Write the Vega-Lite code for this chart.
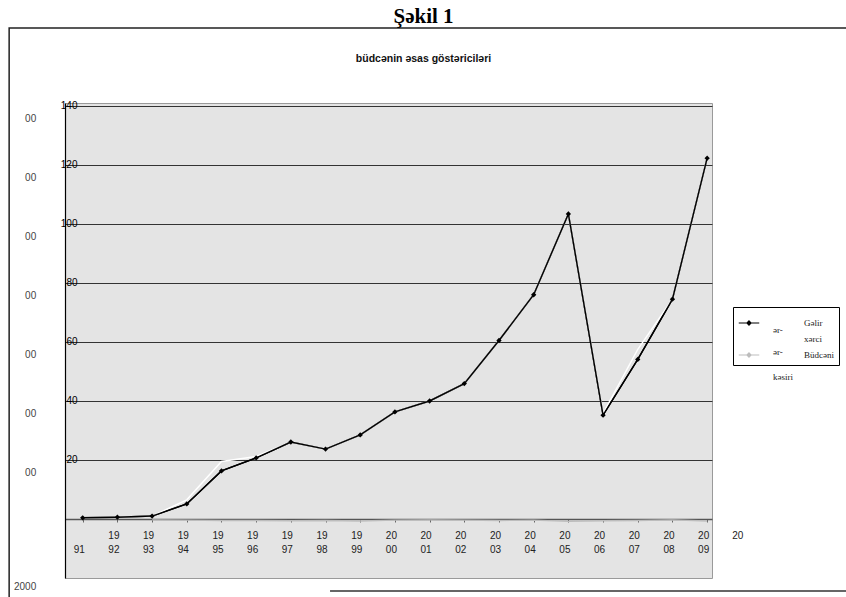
{
  "$schema": "https://vega.github.io/schema/vega-lite/v6.json",
  "autosize": {"type": "none"},
  "width": 647,
  "height": 475,
  "padding": {"left": 65, "top": 103, "right": 134, "bottom": 19},
  "background": "white",
  "title": {
    "text": "Şəkil 1",
    "subtitle": "büdcənin əsas göstəriciləri",
    "anchor": "middle",
    "dx": 35,
    "font": "Liberation Serif",
    "fontSize": 21,
    "fontWeight": "bold",
    "color": "#000000",
    "subtitleFont": "Liberation Sans",
    "subtitleFontSize": 10.5,
    "subtitleFontWeight": "bold",
    "subtitleColor": "#111111",
    "subtitlePadding": 27,
    "offset": -37
  },
  "datasets": {
    "series": [
      {"year": 1991, "series": "Gəlirlər", "value": 0.4},
      {"year": 1992, "series": "Gəlirlər", "value": 0.6},
      {"year": 1993, "series": "Gəlirlər", "value": 1.0},
      {"year": 1994, "series": "Gəlirlər", "value": 5.1},
      {"year": 1995, "series": "Gəlirlər", "value": 16.3},
      {"year": 1996, "series": "Gəlirlər", "value": 20.7},
      {"year": 1997, "series": "Gəlirlər", "value": 26.1},
      {"year": 1998, "series": "Gəlirlər", "value": 23.7},
      {"year": 1999, "series": "Gəlirlər", "value": 28.5},
      {"year": 2000, "series": "Gəlirlər", "value": 36.3},
      {"year": 2001, "series": "Gəlirlər", "value": 40.0},
      {"year": 2002, "series": "Gəlirlər", "value": 45.9},
      {"year": 2003, "series": "Gəlirlər", "value": 60.5},
      {"year": 2004, "series": "Gəlirlər", "value": 76.0},
      {"year": 2005, "series": "Gəlirlər", "value": 103.4},
      {"year": 2006, "series": "Gəlirlər", "value": 35.2},
      {"year": 2007, "series": "Gəlirlər", "value": 54.1},
      {"year": 2008, "series": "Gəlirlər", "value": 74.5},
      {"year": 2009, "series": "Gəlirlər", "value": 122.3},
      {"year": 1991, "series": "Xərclər", "value": 0.4},
      {"year": 1992, "series": "Xərclər", "value": 0.6},
      {"year": 1993, "series": "Xərclər", "value": 1.0},
      {"year": 1994, "series": "Xərclər", "value": 6.5},
      {"year": 1995, "series": "Xərclər", "value": 19.5},
      {"year": 1996, "series": "Xərclər", "value": 21.2},
      {"year": 1997, "series": "Xərclər", "value": 26.1},
      {"year": 1998, "series": "Xərclər", "value": 23.7},
      {"year": 1999, "series": "Xərclər", "value": 28.5},
      {"year": 2000, "series": "Xərclər", "value": 36.3},
      {"year": 2001, "series": "Xərclər", "value": 40.0},
      {"year": 2002, "series": "Xərclər", "value": 45.9},
      {"year": 2003, "series": "Xərclər", "value": 60.5},
      {"year": 2004, "series": "Xərclər", "value": 76.0},
      {"year": 2005, "series": "Xərclər", "value": 103.4},
      {"year": 2006, "series": "Xərclər", "value": 35.8},
      {"year": 2007, "series": "Xərclər", "value": 57.5},
      {"year": 2008, "series": "Xərclər", "value": 74.5},
      {"year": 2009, "series": "Xərclər", "value": 122.3},
      {"year": 1993, "series": "Büdcənin kəsiri", "value": -0.3},
      {"year": 1994, "series": "Büdcənin kəsiri", "value": -0.4},
      {"year": 1995, "series": "Büdcənin kəsiri", "value": -0.5},
      {"year": 1996, "series": "Büdcənin kəsiri", "value": -0.5},
      {"year": 1997, "series": "Büdcənin kəsiri", "value": -0.6},
      {"year": 1998, "series": "Büdcənin kəsiri", "value": -0.5},
      {"year": 1999, "series": "Büdcənin kəsiri", "value": -0.7},
      {"year": 2000, "series": "Büdcənin kəsiri", "value": -0.4},
      {"year": 2001, "series": "Büdcənin kəsiri", "value": -0.3},
      {"year": 2002, "series": "Büdcənin kəsiri", "value": -0.4},
      {"year": 2003, "series": "Büdcənin kəsiri", "value": -0.5},
      {"year": 2004, "series": "Büdcənin kəsiri", "value": -0.4},
      {"year": 2005, "series": "Büdcənin kəsiri", "value": -0.8},
      {"year": 2006, "series": "Büdcənin kəsiri", "value": -0.6},
      {"year": 2007, "series": "Büdcənin kəsiri", "value": -0.5},
      {"year": 2008, "series": "Büdcənin kəsiri", "value": -0.3},
      {"year": 2009, "series": "Büdcənin kəsiri", "value": -0.7}
    ],
    "leftlabels": [
      {"v": 135.5, "t": "00"},
      {"v": 115.5, "t": "00"},
      {"v": 95.5, "t": "00"},
      {"v": 75.5, "t": "00"},
      {"v": 55.5, "t": "00"},
      {"v": 35.5, "t": "00"},
      {"v": 15.5, "t": "00"},
      {"v": -23, "t": "2000"}
    ],
    "legendfrag": [
      {"v": 64.05, "t": "ər-"},
      {"v": 56.6, "t": "ər-"},
      {"v": 48.1, "t": "kəsiri"}
    ],
    "extralabel": [
      {"year": 2010, "v": -5.6, "t": "20"}
    ]
  },
  "layer": [
    {
      "data": {"name": "series"},
      "mark": {"type": "line", "strokeWidth": 1.4},
      "encoding": {
        "x": {
          "field": "year",
          "type": "quantitative",
          "scale": {"domain": [1990.49, 2009.14], "nice": false, "zero": false},
          "axis": {
            "values": [1991, 1992, 1993, 1994, 1995, 1996, 1997, 1998, 1999, 2000, 2001, 2002, 2003, 2004, 2005, 2006, 2007, 2008, 2009],
            "tickCount": 60,
            "labelExpr": "datum.value == 1991 ? ['', '91'] : [slice(toString(datum.value), 0, 2), slice(toString(datum.value), 2)]",
            "offset": -59,
            "title": null,
            "grid": false,
            "domainColor": "#555555",
            "domainWidth": 1.5,
            "tickColor": "#666666",
            "tickSize": 3,
            "labelFont": "Liberation Sans",
            "labelFontSize": 10,
            "labelColor": "#222222",
            "labelPadding": 8,
            "labelLineHeight": 14,
            "labelOverlap": false,
            "labelFlush": false,
            "labelBound": false,
            "labelAlign": "center",
            "labelOffset": -4
          }
        },
        "y": {
          "field": "value",
          "type": "quantitative",
          "scale": {"domain": [-20, 141], "nice": false, "zero": false},
          "axis": {
            "values": [20, 40, 60, 80, 100, 120, 140],
            "tickCount": 20,
            "title": null,
            "grid": true,
            "gridColor": "#333333",
            "gridWidth": 1,
            "domain": true,
            "domainColor": "#000000",
            "domainWidth": 1.2,
            "ticks": false,
            "tickSize": 0,
            "labelPadding": -12,
            "labelFont": "Liberation Sans",
            "labelFontSize": 10,
            "labelColor": "#000000",
            "labelOverlap": false
          }
        },
        "color": {
          "field": "series",
          "type": "nominal",
          "scale": {"domain": ["Gəlirlər", "Xərclər", "Büdcənin kəsiri"], "range": ["#000000", "#ffffff", "#bdbdbd"]},
          "legend": {
            "orient": "none",
            "legendX": 668,
            "legendY": 204,
            "title": null,
            "values": ["Gəlirlər", "Xərclər", "Büdcənin kəsiri"],
            "symbolType": "M-1,0H1M0,-0.2L0.2,0L0,0.2L-0.2,0Z",
            "symbolSize": 420,
            "symbolStrokeWidth": 1.2,
            "labelOffset": 44,
            "labelFont": "Liberation Serif",
            "labelFontSize": 9,
            "labelColor": "#222222",
            "labelLimit": 200,
            "rowPadding": 0,
            "padding": 5,
            "strokeColor": "#000000",
            "fillColor": "transparent",
            "labelExpr": "datum.value == 'Gəlirlər' ? 'Gəlir' : datum.value == 'Xərclər' ? 'xərci' : 'Büdcəni'",
            "encode": {"symbols": {"update": {"fill": {"scale": "color", "field": "value"}}}}
          }
        },
        "order": {"field": "series", "type": "nominal"}
      }
    },
    {
      "data": {"values": [{}]},
      "mark": {"type": "rect", "filled": false, "stroke": "#222222", "strokeWidth": 1.5, "clip": false},
      "encoding": {
        "x": {"datum": 1988.88, "type": "quantitative"},
        "x2": {"datum": 2013.5},
        "y": {"datum": 166.4, "type": "quantitative"},
        "y2": {"datum": -28}
      }
    },
    {
      "data": {"values": [{}]},
      "mark": {"type": "rule", "stroke": "#333333", "strokeWidth": 1.5, "clip": false},
      "encoding": {
        "x": {"datum": 1998.13, "type": "quantitative"},
        "x2": {"datum": 2013.5},
        "y": {"datum": -24.4, "type": "quantitative"}
      }
    },
    {
      "data": {"name": "leftlabels"},
      "mark": {"type": "text", "align": "right", "baseline": "middle", "font": "Liberation Sans", "fontSize": 10, "color": "#444444", "clip": false},
      "encoding": {
        "x": {"datum": 1989.66, "type": "quantitative"},
        "y": {"field": "v", "type": "quantitative"},
        "text": {"field": "t"}
      }
    },
    {
      "data": {"name": "extralabel"},
      "mark": {"type": "text", "align": "center", "baseline": "middle", "font": "Liberation Sans", "fontSize": 10, "color": "#222222", "dx": -4, "clip": false},
      "encoding": {
        "x": {"field": "year", "type": "quantitative"},
        "y": {"field": "v", "type": "quantitative"},
        "text": {"field": "t"}
      }
    },
    {
      "data": {"name": "legendfrag"},
      "mark": {"type": "text", "align": "left", "baseline": "middle", "font": "Liberation Serif", "fontSize": 9, "color": "#222222", "clip": false},
      "encoding": {
        "x": {"datum": 2010.9, "type": "quantitative"},
        "y": {"field": "v", "type": "quantitative"},
        "text": {"field": "t"}
      }
    },
    {
      "data": {"name": "series"},
      "transform": [{"filter": "datum.series == 'Gəlirlər'"}],
      "mark": {"type": "line", "color": "#000000", "strokeWidth": 1.4},
      "encoding": {
        "x": {"field": "year", "type": "quantitative"},
        "y": {"field": "value", "type": "quantitative"}
      }
    },
    {
      "data": {"name": "series"},
      "transform": [{"filter": "datum.series == 'Gəlirlər'"}],
      "mark": {"type": "point", "shape": "diamond", "filled": true, "color": "#000000", "size": 28, "opacity": 1},
      "encoding": {
        "x": {"field": "year", "type": "quantitative"},
        "y": {"field": "value", "type": "quantitative"}
      }
    }
  ],
  "config": {
    "view": {"fill": "#e4e4e4", "stroke": "#9a9a9a"},
    "font": "Liberation Sans",
    "axis": {"labelOverlap": false},
    "axisX": {"labelOverlap": false, "labelBound": false}
  }
}
